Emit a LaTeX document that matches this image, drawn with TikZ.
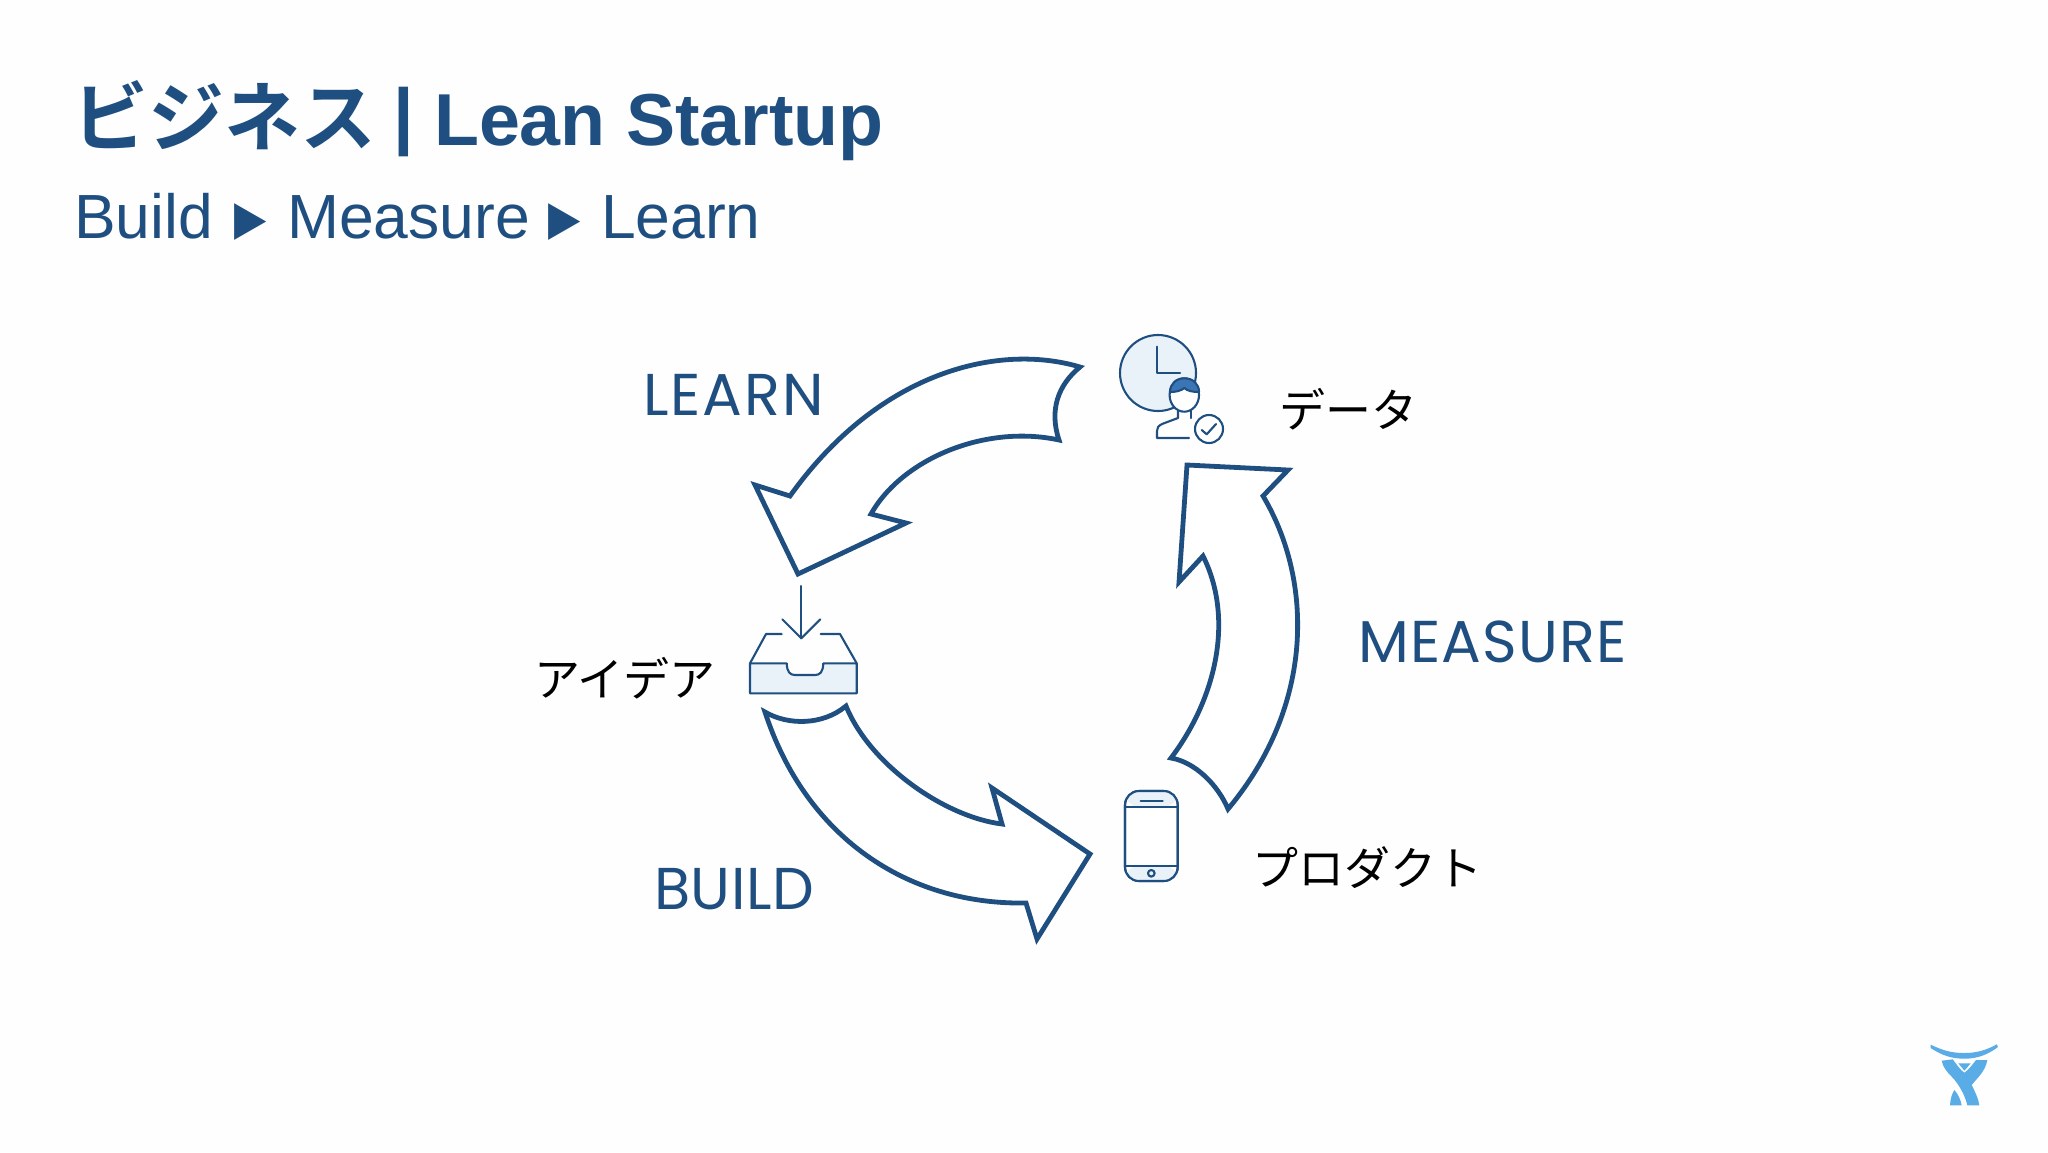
\documentclass[tikz,border=0pt]{standalone}
\usepackage{fontspec}
\setmainfont{Liberation Sans}
\newfontfamily\cjkreg{Noto Sans CJK JP}
\newfontfamily\cjkbold{Noto Sans CJK JP Bold}
\newfontfamily\sym{DejaVu Sans}
\newfontfamily\labA[LetterSpace=3.5]{Poppins}
\newfontfamily\labB[LetterSpace=2]{Poppins}
\newfontfamily\labC[LetterSpace=1]{Poppins}
\definecolor{navy}{HTML}{1F4F80}
\definecolor{pale}{HTML}{E9F1F9}
\definecolor{hair}{HTML}{3A75B5}
\definecolor{sky}{HTML}{59ACE6}
\newcommand{\tri}{\raisebox{1.8pt}{\scalebox{.875}[1]{\sym\fontsize{24}{25}\selectfont ▶}}}
\tikzset{
  blockarrow/.style={draw=navy,line width=2.4pt,fill=white,miter limit=10,line join=miter},
  icon/.style={draw=navy,line width=1.05pt,line join=round,line cap=round},
  txt/.style={anchor=base west,inner sep=0pt,outer sep=0pt},
  titletext/.style={txt,text=navy},
  steplabel/.style={txt,text=navy},
  jplabel/.style={anchor=center,inner sep=0pt,text=black}
}
\begin{document}
\begin{tikzpicture}[x=0.5pt,y=-0.5pt]
\useasboundingbox (0,0) rectangle (2048,1152);
\fill[white!99.5!black] (0,0) rectangle (2048,1152);
% headings
\node[titletext] (title) at (72,145) {{\cjkbold\fontsize{38}{40}\selectfont ビジネス}\hspace{8.5pt}{\fontsize{36.8}{40}\selectfont\bfseries\raisebox{2.5pt}{|} Lean Startup}};
\node[titletext] (sub) at (74,238) {\fontsize{31.2}{34}\selectfont Build\hspace{11pt}\tri\hspace{10pt}Measure\hspace{9.5pt}\tri\hspace{10pt}Learn};
% LEARN arrow
\draw[blockarrow] (1080,367) .. controls (1000,343) and (880,370) .. (790,496)
  -- (755,485) -- (798,574) -- (906,523) -- (871,514)
  .. controls (902,459) and (985,424) .. (1059,440)
  .. controls (1049,410) and (1058,385) .. (1080,367) -- cycle;
% BUILD arrow
\draw[blockarrow] (765,712) .. controls (787,725) and (822,726) .. (846,706)
  .. controls (870,765) and (945,817) .. (1002,824)
  -- (992,788) -- (1090,854) -- (1037,939) -- (1026,903)
  .. controls (905,905) and (805,835) .. (765,712) -- cycle;
% MEASURE arrow
\draw[blockarrow] (1187,465) -- (1288,470) -- (1263,496)
  .. controls (1313,580) and (1315,705) .. (1228,809)
  .. controls (1218,785) and (1195,762) .. (1171,758)
  .. controls (1215,700) and (1235,620) .. (1203,556)
  -- (1179,582) -- cycle;
% inbox icon
\fill[pale] (750,663.3) -- (786.7,663.3) .. controls (787,672) and (790,675) .. (795,675) -- (815,675) .. controls (820,675) and (823,672) .. (823.3,663.3) -- (856.7,663.3) -- (856.7,693.3) -- (750,693.3) -- cycle;
\draw[icon] (750,663.3) -- (786.7,663.3) .. controls (787,672) and (790,675) .. (795,675) -- (815,675) .. controls (820,675) and (823,672) .. (823.3,663.3) -- (856.7,663.3) -- (856.7,693.3) -- (750,693.3) -- cycle;
\draw[icon] (781.7,634) -- (766,634) -- (750,663.3);
\draw[icon] (820.7,634) -- (840,634) -- (856.7,663.3);
\draw[icon] (801.3,586) -- (801.3,638.3);
\draw[icon] (782.3,619.3) -- (801.3,638.3) -- (820.3,619.3);
% clock and person icon
\draw[icon,fill=pale] (1158,373) circle (38);
\draw[icon] (1157.3,346.7) -- (1157.3,373.3) -- (1180,373.3);
\draw[icon,fill=white] (1184.3,395) ellipse (14.7 and 16.7);
\fill[hair,draw=navy,line width=1.05pt,line join=round] (1170,392) .. controls (1170,384) and (1176,378.3) .. (1184.3,378.3) .. controls (1193,378.3) and (1199,384) .. (1199,392) .. controls (1193,392) and (1187,391) .. (1184.3,388) .. controls (1181,391) and (1175,392) .. (1170,392) -- cycle;
\draw[icon] (1178,411) -- (1178,418) -- (1162,424) .. controls (1158,426) and (1157,428) .. (1157,431) -- (1157,438) -- (1189,438);
\draw[icon] (1191,410) -- (1191,418);
\draw[icon,fill=white] (1209,429) circle (14);
\draw[icon] (1201.7,430) -- (1206.7,434.3) -- (1216,424);
% phone icon
\draw[icon,fill=white,rounded corners=7] (1125,791) rectangle (1177.7,881);
\fill[pale,rounded corners=7] (1125,791) -- (1177.7,791) -- (1177.7,806.7) -- (1125,806.7) -- cycle;
\fill[pale,rounded corners=7] (1125,865.7) -- (1177.7,865.7) -- (1177.7,881) -- (1125,881) -- cycle;
\draw[icon,rounded corners=7] (1125,791) rectangle (1177.7,881);
\draw[icon] (1125,806.7) -- (1177.7,806.7);
\draw[icon] (1125,865.7) -- (1177.7,865.7);
\draw[icon] (1140.7,800.7) -- (1162.7,800.7);
\draw[icon] (1151.3,873.3) circle (3.3);
% labels
\node[steplabel] (learn) at (643,415) {\labA\fontsize{29.5}{30}\selectfont LEARN};
\node[steplabel] (measure) at (1358,662) {\labB\fontsize{29.5}{30}\selectfont MEASURE};
\node[steplabel] (build) at (654,909) {\labC\fontsize{29.5}{30}\selectfont BUILD};
\node[jplabel] (data) at (1348,409) {\cjkreg\fontsize{23}{25}\selectfont データ};
\node[jplabel] (idea) at (625,678) {\cjkreg\fontsize{23}{25}\selectfont アイデア};
\node[jplabel] (product) at (1367,868) {\cjkreg\fontsize{23}{25}\selectfont プロダクト};
% logo
\begin{scope}[shift={(1910,1030)},scale=1/3]
\fill[sky] (62,44) .. controls (100,62) and (125,69) .. (163,69) .. controls (200,69) and (230,60) .. (260,43) -- (264,51) .. controls (230,76) and (200,86) .. (163,86) .. controls (125,86) and (95,76) .. (62,54) -- cycle;
\fill[sky] (95,92) -- (128,88) .. controls (138,100) and (150,120) .. (163,128) .. controls (176,120) and (190,100) .. (198,90) -- (232,90) .. controls (225,125) and (205,140) .. (185,165) .. controls (195,185) and (205,205) .. (208,226) -- (172,226) .. controls (165,195) and (145,160) .. (125,140) .. controls (110,125) and (98,110) .. (95,92) -- cycle;
\fill[sky] (133,180) .. controls (145,193) and (152,210) .. (155,226) -- (120,226) .. controls (121,208) and (125,192) .. (133,180) -- cycle;
\fill[sky] (145,100) -- (182,100) -- (163,122) -- cycle;
\end{scope}
\end{tikzpicture}
\end{document}
